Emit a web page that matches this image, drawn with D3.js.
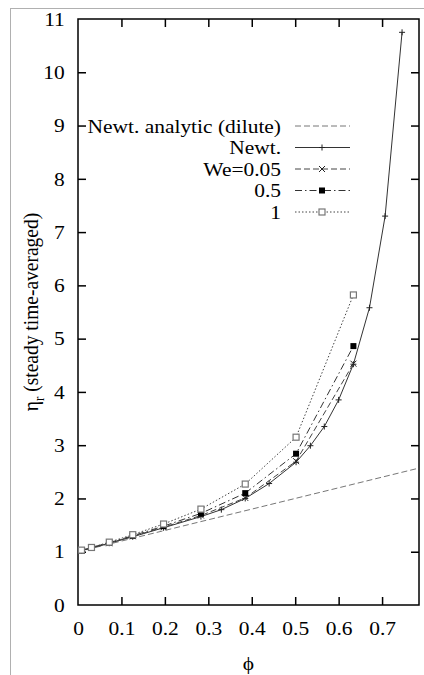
<!DOCTYPE html>
<html>
<head>
<meta charset="utf-8">
<script src="https://cdn.jsdelivr.net/npm/d3@7"></script>
<style>
  html, body { margin: 0; padding: 0; background: #fff; }
  svg { display: block; }
</style>
</head>
<body>
<svg id="chart" width="424" height="675"></svg>
<script>
// Relative viscosity vs. volume fraction
const xTicks = [0, 0.1, 0.2, 0.3, 0.4, 0.5, 0.6, 0.7];
const yTicks = [0, 1, 2, 3, 4, 5, 6, 7, 8, 9, 10, 11];

// dilute-limit analytic line (endpoints)
const dilutePhi = [0, 0.785];
const diluteEta = [1, 2.57];

// Newtonian simulations
const phiNewt = [0.008, 0.031, 0.072, 0.126, 0.197, 0.283, 0.33, 0.385, 0.44, 0.502, 0.535, 0.567, 0.600, 0.634, 0.671, 0.707, 0.746];
const etaNewt = [1.02, 1.07, 1.16, 1.28, 1.45, 1.66, 1.79, 2.00, 2.28, 2.68, 2.99, 3.35, 3.85, 4.52, 5.58, 7.30, 10.75];

// viscoelastic runs at three Weissenberg numbers
const phiWe = [0.008, 0.031, 0.072, 0.126, 0.197, 0.283, 0.385, 0.502, 0.634];
const etaWe005 = [1.02, 1.07, 1.16, 1.29, 1.46, 1.68, 2.01, 2.70, 4.53];
const etaWe05 = [1.02, 1.08, 1.17, 1.30, 1.48, 1.72, 2.10, 2.84, 4.86];
const etaWe1 = [1.03, 1.08, 1.18, 1.32, 1.52, 1.80, 2.27, 3.15, 5.82];

const legendLabels = ["Newt. analytic (dilute)", "Newt.", "We=0.05", "0.5", "1"];

const FONT = '"Liberation Serif", "Times New Roman", serif';
const fontSize = 19.5;
const stretch = 1.1;   // glyphs are set slightly wide
const tickLen = 8;

const svg = d3.select("#chart");
const plotLeft = 78, plotRight = 419, plotTop = 19, plotBottom = 605;
const x = d3.scaleLinear().domain([0, 0.785]).range([plotLeft, plotRight]);
const y = d3.scaleLinear().domain([0, 11]).range([plotBottom, plotTop]);

// outer frame lines
svg.append("line").attr("x1", 10).attr("x2", 424).attr("y1", 8.5).attr("y2", 8.5)
  .attr("stroke", "#b0b0b0").attr("stroke-width", 1);
svg.append("line").attr("x1", 10.5).attr("x2", 10.5).attr("y1", 8).attr("y2", 675)
  .attr("stroke", "#b0b0b0").attr("stroke-width", 1);

// axes (inward ticks, mirrored)
const gB = svg.append("g").attr("transform", `translate(0,${plotBottom})`)
  .call(d3.axisBottom(x).tickValues(xTicks).tickSize(-tickLen).tickPadding(16)
    .tickFormat(d => d === 0 ? "0" : d3.format(".1f")(d)));
const gT = svg.append("g").attr("transform", `translate(0,${plotTop})`)
  .call(d3.axisTop(x).tickValues(xTicks).tickSize(-tickLen).tickFormat(""));
const gL = svg.append("g").attr("transform", `translate(${plotLeft},0)`)
  .call(d3.axisLeft(y).tickValues(yTicks).tickSize(-tickLen).tickPadding(12).tickFormat(d3.format("d")));
const gR = svg.append("g").attr("transform", `translate(${plotRight},0)`)
  .call(d3.axisRight(y).tickValues(yTicks).tickSize(-tickLen).tickFormat(""));

[gB, gT, gL, gR].forEach(g => {
  g.select(".domain").remove();
  g.selectAll(".tick line").attr("stroke", "#000").attr("stroke-width", 1.5);
  g.selectAll(".tick text").style("font-size", fontSize + "px")
    .style("font-family", FONT).attr("fill", "#000")
    .attr("transform", `scale(${stretch},1)`);
});
// hide end ticks that sit on the frame corners
gB.selectAll(".tick").filter(d => d === 0).select("line").remove();
gT.selectAll(".tick").filter(d => d === 0).select("line").remove();
gL.selectAll(".tick").filter(d => d === 0 || d === 11).select("line").remove();
gR.selectAll(".tick").filter(d => d === 0 || d === 11).select("line").remove();

svg.append("rect").attr("x", plotLeft).attr("y", plotTop)
  .attr("width", plotRight - plotLeft).attr("height", plotBottom - plotTop)
  .attr("fill", "none").attr("stroke", "#000").attr("stroke-width", 1.5);

// marker drawing helpers
function marker(g, type, cx, cy) {
  const s = 3;
  if (type === "plus") {
    g.append("path").attr("d", `M${cx - s},${cy}H${cx + s}M${cx},${cy - s}V${cy + s}`)
      .attr("stroke", "#222").attr("stroke-width", 1).attr("fill", "none");
  } else if (type === "cross") {
    g.append("path").attr("d", `M${cx - s},${cy - s}L${cx + s},${cy + s}M${cx - s},${cy + s}L${cx + s},${cy - s}`)
      .attr("stroke", "#222").attr("stroke-width", 1).attr("fill", "none");
  } else if (type === "fsquare") {
    g.append("rect").attr("x", cx - 3).attr("y", cy - 3).attr("width", 6).attr("height", 6)
      .attr("fill", "#000");
  } else if (type === "osquare") {
    g.append("rect").attr("x", cx - 3).attr("y", cy - 3).attr("width", 6).attr("height", 6)
      .attr("fill", "#fff").attr("stroke", "#777").attr("stroke-width", 1.2);
  }
}

const line = d3.line().x(d => x(d[0])).y(d => y(d[1]));

const series = [
  { phi: dilutePhi, eta: diluteEta, dash: "6,3", color: "#777", width: 1, mark: null },
  { phi: phiNewt, eta: etaNewt, dash: null, color: "#333", width: 1, mark: "plus" },
  { phi: phiWe, eta: etaWe005, dash: "6,3", color: "#444", width: 1, mark: "cross" },
  { phi: phiWe, eta: etaWe05, dash: "7,3,1.5,3", color: "#333", width: 1, mark: "fsquare" },
  { phi: phiWe, eta: etaWe1, dash: "1.5,2", color: "#444", width: 1, mark: "osquare" }
];

const plot = svg.append("g");
series.forEach(s => {
  const pts = s.phi.map((p, i) => [p, s.eta[i]]);
  plot.append("path").attr("d", line(pts)).attr("fill", "none")
    .attr("stroke", s.color).attr("stroke-width", s.width)
    .attr("stroke-dasharray", s.dash);
  if (s.mark) {
    const mg = plot.append("g");
    pts.forEach(p => marker(mg, s.mark, x(p[0]), y(p[1])));
  }
});

// legend
const legRows = [126, 147.5, 169, 190.5, 212];
const leg = svg.append("g");
series.forEach((s, i) => {
  const ry = legRows[i];
  leg.append("text").attr("text-anchor", "end")
    .attr("transform", `translate(281,${ry + 6.5}) scale(${stretch},1)`)
    .style("font-family", FONT).style("font-size", fontSize + "px").text(legendLabels[i]);
  leg.append("line").attr("x1", 295).attr("x2", 350).attr("y1", ry).attr("y2", ry)
    .attr("stroke", s.color).attr("stroke-width", s.width).attr("stroke-dasharray", s.dash);
  if (s.mark) marker(leg, s.mark, 322, ry);
});

// axis titles
svg.append("text").attr("text-anchor", "middle")
  .attr("transform", `translate(${(plotLeft + plotRight) / 2},670) scale(${stretch},1)`)
  .style("font-family", FONT).style("font-size", fontSize + "px")
  .text("\u03D5");

const yt = svg.append("text")
  .attr("transform", `translate(38,${(plotTop + plotBottom) / 2}) rotate(-90) scale(1,${stretch})`)
  .attr("text-anchor", "middle").style("font-family", FONT).style("font-size", fontSize + "px");
yt.append("tspan").text("\u03B7");
yt.append("tspan").style("font-size", "13px").attr("dy", 5).text("r");
yt.append("tspan").attr("dy", -5).text(" (steady time-averaged)");
</script>
</body>
</html>
